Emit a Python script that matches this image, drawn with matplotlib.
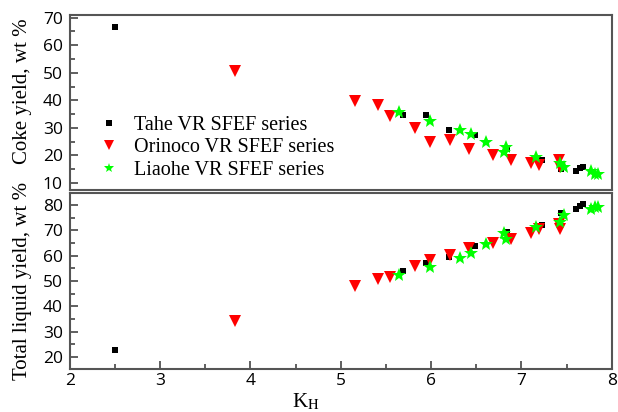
# Coke yield and total liquid yield vs K_H for three VR SFEF series
import matplotlib.pyplot as plt
from matplotlib.ticker import MultipleLocator

# Tahe VR SFEF series
tahe_k = [2.50, 5.69, 5.94, 6.20, 6.49, 6.84, 7.23, 7.44, 7.60, 7.65, 7.68]
tahe_coke = [66.5, 34.7, 34.7, 29.4, 27.3, 22.5, 18.3, 15.0, 14.3, 15.3, 15.9]
tahe_liquid = [22.6, 54.1, 57.0, 59.6, 63.8, 69.2, 72.2, 76.7, 78.3, 79.6, 80.4]

# Orinoco VR SFEF series
orinoco_k = [3.83, 5.16, 5.41, 5.54, 5.82, 5.99, 6.21, 6.42, 6.68, 6.88, 7.11, 7.19, 7.41, 7.43]
orinoco_coke = [50.8, 39.7, 38.2, 34.2, 30.0, 25.0, 25.5, 22.3, 20.1, 18.5, 17.3, 16.5, 18.5, 15.9]
orinoco_liquid = [34.1, 48.1, 50.7, 51.7, 55.9, 58.3, 60.4, 62.9, 64.9, 66.7, 69.1, 70.5, 72.4, 70.5]

# Liaohe VR SFEF series
liaohe_k = [5.64, 5.99, 6.32, 6.44, 6.61, 6.83, 6.81, 7.16, 7.43, 7.47, 7.77, 7.81, 7.85]
liaohe_coke = [35.6, 32.4, 29.1, 27.9, 25.0, 22.9, 21.1, 19.5, 17.3, 15.9, 14.4, 13.2, 13.2]
liaohe_liquid = [52.3, 55.4, 59.1, 61.2, 64.6, 66.6, 68.8, 71.4, 73.2, 76.2, 78.3, 79.1, 79.3]

serif = 'Liberation Serif'
tick_font = 'Open Sans'
plt.rcParams['mathtext.fontset'] = 'stix'

fig = plt.figure(figsize=(6.18, 4.12), dpi=100)
ax1 = fig.add_axes([0.113, 0.539, 0.877, 0.425])
ax2 = fig.add_axes([0.113, 0.104, 0.877, 0.428])

series = [
    (tahe_k, tahe_coke, tahe_liquid, 's', 'black', 5, 'Tahe VR SFEF series'),
    (orinoco_k, orinoco_coke, orinoco_liquid, 'v', 'red', 9, 'Orinoco VR SFEF series'),
    (liaohe_k, liaohe_coke, liaohe_liquid, '*', '#00ff00', 10, 'Liaohe VR SFEF series'),
]
for k, coke, liquid, m, c, ms, label in series:
    ax1.plot(k, coke, linestyle='none', marker=m, color=c, markersize=ms,
             markeredgewidth=0, label=label)
    ax2.plot(k, liquid, linestyle='none', marker=m, color=c, markersize=ms,
             markeredgewidth=0)

for ax in (ax1, ax2):
    ax.set_xlim(2, 8)
    ax.xaxis.set_major_locator(MultipleLocator(1))
    ax.xaxis.set_minor_locator(MultipleLocator(0.5))
    ax.yaxis.set_major_locator(MultipleLocator(10))
    ax.yaxis.set_minor_locator(MultipleLocator(5))
    ax.tick_params(which='both', direction='in', top=False, right=False,
                   colors='#444444', labelcolor='black', width=1.2)
    ax.tick_params(which='major', length=6)
    ax.tick_params(which='minor', length=3.5)
    ax.tick_params(axis='y', pad=5)
    ax.tick_params(axis='x', pad=2.5)
    for s in ax.spines.values():
        s.set_color('#555555')
        s.set_linewidth(1.5)
    for lab in ax.get_xticklabels() + ax.get_yticklabels():
        lab.set_fontfamily(tick_font)
        lab.set_fontsize(12.5)

ax1.set_ylim(7.5, 71)
ax1.tick_params(axis='x', which='both', bottom=False, labelbottom=False)
ax2.set_ylim(15.2, 84.8)

ax1.set_ylabel('Coke yield, wt %', family=serif, fontsize=15)
ax2.set_ylabel('Total liquid yield, wt %', family=serif, fontsize=15)
ax1.yaxis.set_label_coords(-0.07, 0.565)
ax2.yaxis.set_label_coords(-0.07, 0.5)
ax2.set_xlabel(r'K$_\mathrm{H}$', family=serif, fontsize=15)
ax2.xaxis.set_label_coords(0.435, -0.13)

ax1.legend(loc='lower left', bbox_to_anchor=(0.03, 0.01), frameon=False,
           prop={'family': serif, 'size': 14.5}, handletextpad=0.5,
           labelspacing=0.18, borderaxespad=0.0, markerscale=0.75,
           handlelength=1.5)

fig.savefig('out.png', dpi=100)
